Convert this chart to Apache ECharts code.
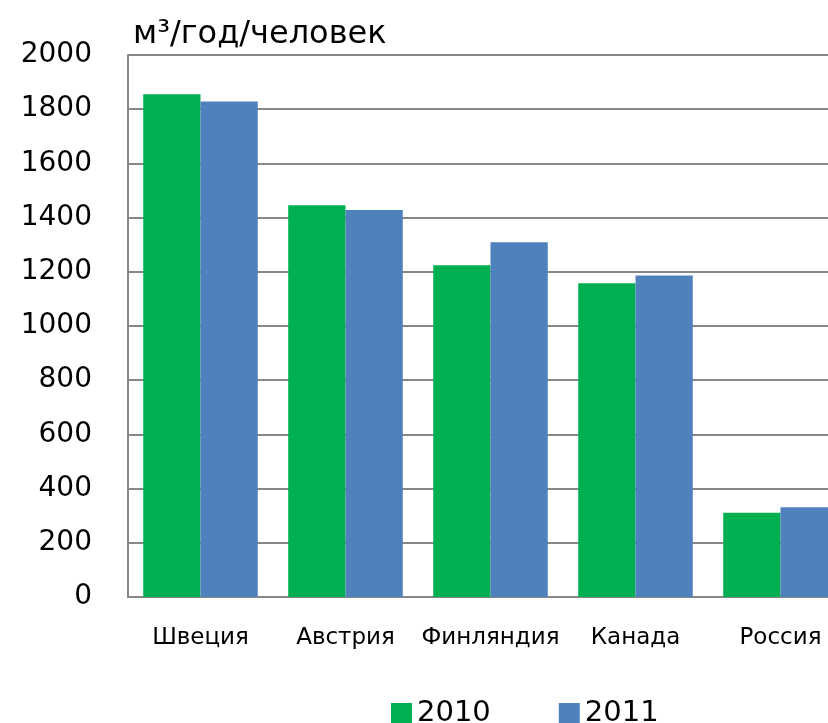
<!DOCTYPE html>
<html>
<head>
<meta charset="utf-8">
<script src="https://cdn.jsdelivr.net/npm/echarts@6/dist/echarts.min.js"></script>
<style>
  html, body { margin: 0; padding: 0; background: #fff; overflow: hidden; }
  #chart { width: 853px; height: 723px; }
</style>
</head>
<body>
<div id="chart"></div>
<script>
const categories = ['Швеция', 'Австрия', 'Финляндия', 'Канада', 'Россия'];
const values2010 = [1855, 1446, 1224, 1158, 311];
const values2011 = [1828, 1428, 1309, 1186, 331];
const seriesNames = ['2010', '2011'];
const unitLabel = 'м³/год/человек';

const font = '"DejaVu Sans", "Noto Sans", sans-serif';
const chart = echarts.init(document.getElementById('chart'));

const options = {
  animation: false,
  color: ['#00B050', '#4F81BD'],
  textStyle: { fontFamily: font },
  title: {
    text: unitLabel,
    left: 128,
    top: 14,
    textStyle: { fontFamily: font, fontSize: 32, fontWeight: 'normal', color: '#000' }
  },
  legend: {
    top: 694,
    left: 386,
    itemGap: 68,
    itemWidth: 21,
    itemHeight: 21,
    icon: 'rect',
    textStyle: { fontSize: 29, color: '#000', fontFamily: font },
    data: seriesNames
  },
  grid: {
    left: 128,
    top: 55,
    right: 0,
    bottom: 126
  },
  xAxis: {
    type: 'category',
    data: categories,
    axisTick: { show: false },
    axisLine: { lineStyle: { color: '#878787', width: 2 } },
    axisLabel: { fontSize: 23, color: '#000', margin: 30, interval: 0 }
  },
  yAxis: {
    type: 'value',
    min: 0,
    max: 2000,
    interval: 200,
    axisLine: { show: true, lineStyle: { color: '#878787', width: 2 } },
    axisTick: { show: false },
    splitLine: { lineStyle: { color: '#878787', width: 2 } },
    axisLabel: { fontSize: 28, color: '#000', margin: 36, formatter: v => String(v) }
  },
  series: [
    {
      name: seriesNames[0],
      type: 'bar',
      data: values2010,
      barGap: '0%',
      barCategoryGap: '21%'
    },
    {
      name: seriesNames[1],
      type: 'bar',
      data: values2011,
      barGap: '0%',
      barCategoryGap: '21%'
    }
  ]
};
chart.setOption(options);
</script>
</body>
</html>
